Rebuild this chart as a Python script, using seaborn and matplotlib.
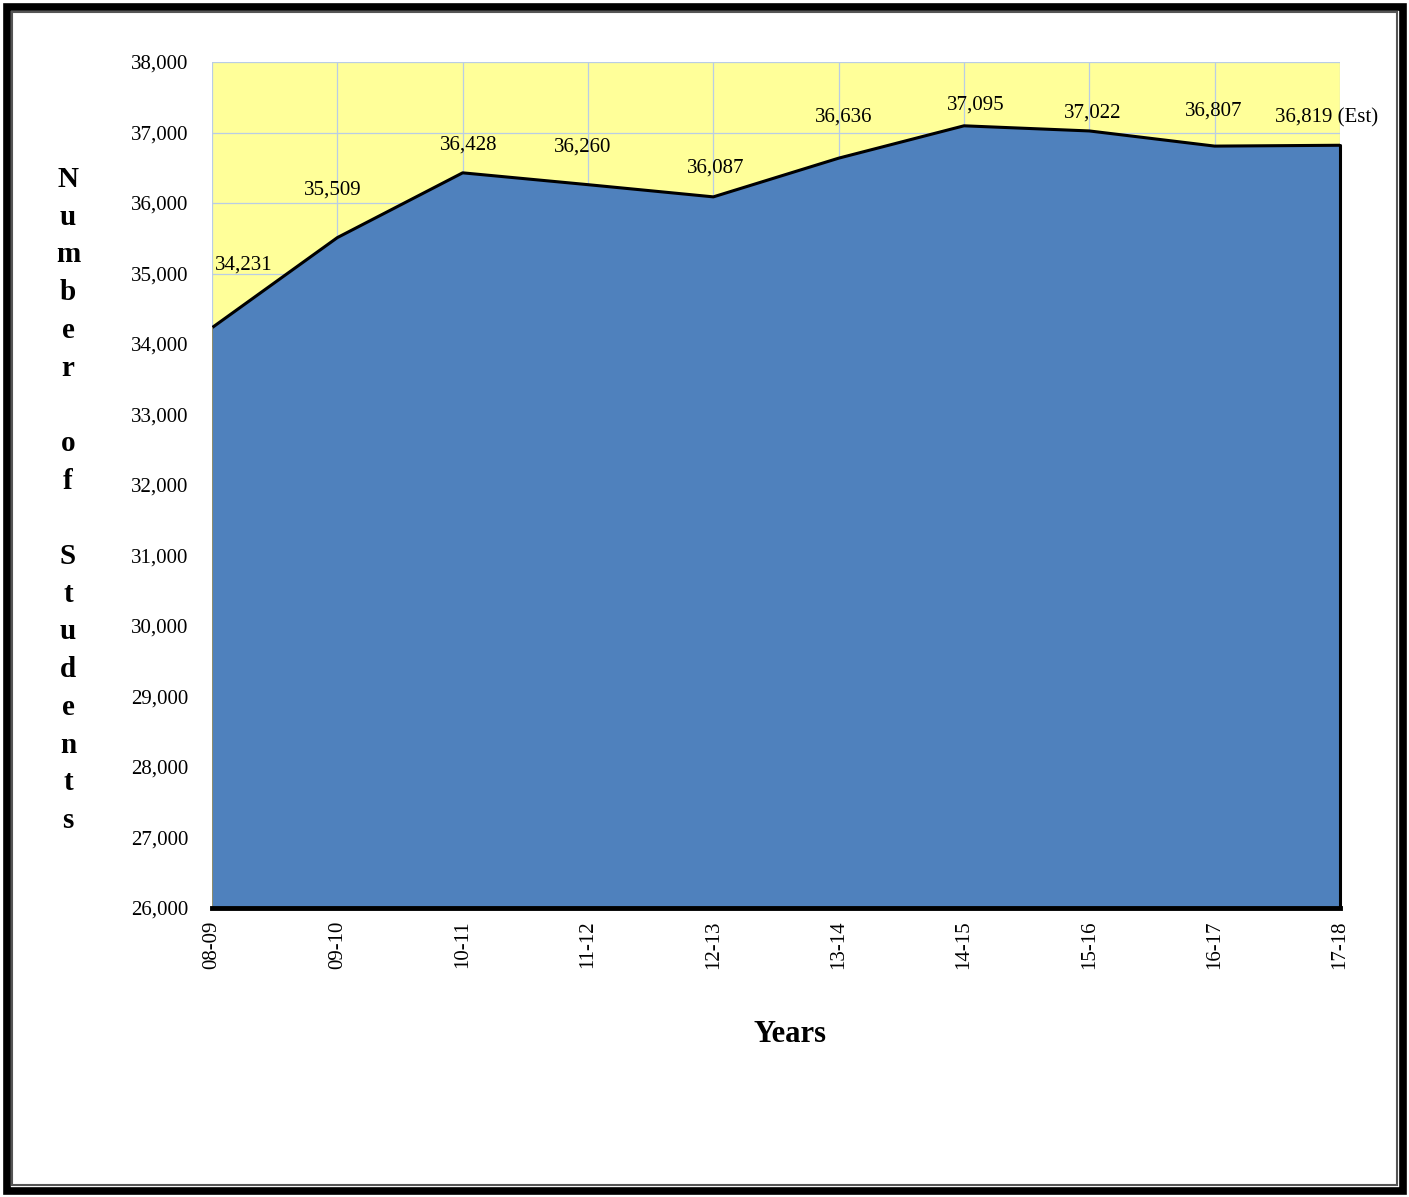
import matplotlib
matplotlib.use("Agg")
import matplotlib.pyplot as plt
from matplotlib.patches import Rectangle
from matplotlib.ticker import FuncFormatter, MultipleLocator
import seaborn as sns
import pandas as pd

# Enrollment by school year
years = ["08-09", "09-10", "10-11", "11-12", "12-13", "13-14", "14-15", "15-16", "16-17", "17-18"]
students = [34231, 35509, 36428, 36260, 36087, 36636, 37095, 37022, 36807, 36819]
label_suffix = ["", "", "", "", "", "", "", "", "", " (Est)"]

# per-label nudges (pixels) for the value labels
label_dx = [32, -5, 6, -5, 2, 5, 12, 3, -1, -13]
label_dy = [63, 48, 28, 38, 29, 41, 21, 18, 35, 27]

sns.set_style("white")
plt.rcParams["font.family"] = ["Liberation Serif", "DejaVu Serif"]
plt.rcParams["text.color"] = "black"
plt.rcParams["axes.labelcolor"] = "black"
plt.rcParams["xtick.color"] = "black"
plt.rcParams["ytick.color"] = "black"

df = pd.DataFrame({"pos": range(len(years)), "students": students})

fig = plt.figure(figsize=(14.09, 11.97), dpi=100)
ax = fig.add_axes([212 / 1409, 1 - 908 / 1197, (1340 - 212) / 1409, (908 - 62) / 1197])
ax.set_facecolor("#FFFF99")

ymin, ymax = 26000, 38000
ax.fill_between(df["pos"], ymin, df["students"], color="#4F81BD", zorder=2, linewidth=0)
sns.lineplot(data=df, x="pos", y="students", ax=ax, color="black", linewidth=2.2, zorder=3)
# edges of the filled area
ax.plot([0, 0], [ymin, students[0]], color="#8C8C6E", linewidth=1.5, zorder=3)
ax.plot([len(years) - 1] * 2, [ymin, students[-1]], color="black", linewidth=2.2, zorder=3,
        clip_on=False)

ax.set_xlim(0, len(years) - 1)
ax.set_ylim(ymin, ymax)
ax.yaxis.set_major_locator(MultipleLocator(1000))
ax.yaxis.set_major_formatter(FuncFormatter(lambda v, p: f"{int(v):,}"))
ax.set_xticks(range(len(years)))
ax.set_xticklabels(years, rotation=90)
ax.grid(True, color="#B9CDE5", linewidth=0.9, zorder=1)
ax.set_axisbelow(True)

for s in ["top", "right", "left"]:
    ax.spines[s].set_visible(False)
ax.spines["bottom"].set_linewidth(3.5)
ax.spines["bottom"].set_color("black")
ax.spines["bottom"].set_zorder(5)
ax.tick_params(axis="x", direction="in", length=5, width=3, labelsize=15, pad=9,
               colors="black")
ax.tick_params(axis="y", length=0, labelsize=15, pad=17, colors="black")

for i, (v, sfx) in enumerate(zip(students, label_suffix)):
    ax.annotate(f"{v:,}{sfx}", xy=(i, v), xytext=(label_dx[i], label_dy[i]),
                textcoords="offset pixels", ha="center", va="center",
                fontsize=15, color="black", zorder=6, annotation_clip=False)

ax.set_xlabel("")
ax.set_ylabel("")

ylabel = "N\nu\nm\nb\ne\nr\n\no\nf\n\nS\nt\nu\nd\ne\nn\nt\ns"
fig.text(68 / 1409, 1 - 500 / 1197, ylabel, ha="center", va="center", fontsize=21,
         fontweight="bold", linespacing=1.51, color="black")
fig.text(790 / 1409, 1 - 1035 / 1197, "Years", ha="center", va="center", fontsize=22,
         fontweight="bold", color="black")

# double frame around the chart
fig.patches.append(Rectangle((6.5 / 1409, 6.5 / 1197), 1 - 13 / 1409, 1 - 13 / 1197,
                             transform=fig.transFigure, fill=False, edgecolor="black",
                             linewidth=5.5))
fig.patches.append(Rectangle((12 / 1409, 12 / 1197), 1 - 24 / 1409, 1 - 24 / 1197,
                             transform=fig.transFigure, fill=False, edgecolor="#555555",
                             linewidth=1.5))

fig.savefig("out.png", dpi=100, facecolor="white")
